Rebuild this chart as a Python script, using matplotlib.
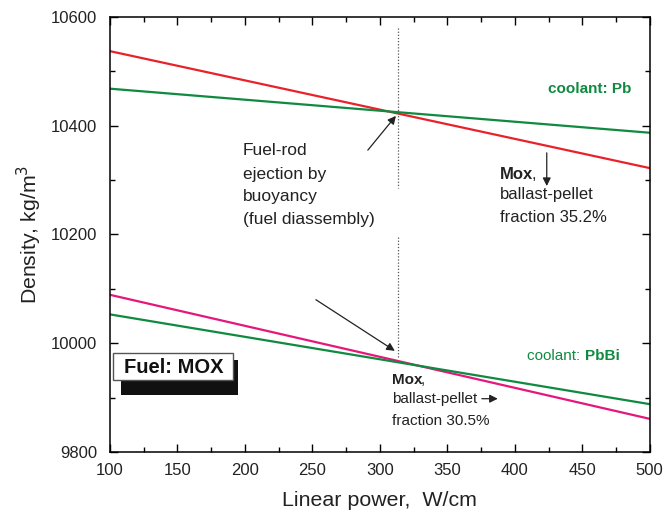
import numpy as np
import matplotlib
matplotlib.use("Agg")
import matplotlib.pyplot as plt
from matplotlib.ticker import MultipleLocator
from matplotlib.patches import Rectangle

plt.rcParams['font.family'] = ['Liberation Sans', 'DejaVu Sans']

# linear power, W/cm (line end points)
power = [100, 500]
# densities, kg/m3
mox_pb = [10537, 10322]      # Mox, ballast-pellet fraction 35.2%
coolant_pb = [10468, 10387]
mox_pbbi = [10089, 9861]     # Mox, ballast-pellet fraction 30.5%
coolant_pbbi = [10053, 9888]
x_eject = 313.3

red = '#e8222a'
green = '#0f8a40'
pink = '#e5177a'
ink = '#222222'

fig = plt.figure(figsize=(6.65, 5.18), dpi=100)
ax = fig.add_axes([0.1654, 0.1274, 0.8116, 0.84])

ax.plot(power, mox_pb, color=red, lw=1.6)
ax.plot(power, coolant_pb, color=green, lw=1.6)
ax.plot(power, mox_pbbi, color=pink, lw=1.6)
ax.plot(power, coolant_pbbi, color=green, lw=1.6)

# vertical dotted marker
ax.plot([x_eject, x_eject], [10580, 10285], color='#555555', lw=0.9, ls=(0, (1, 1.5)))
ax.plot([x_eject, x_eject], [10195, 9973], color='#555555', lw=0.9, ls=(0, (1, 1.5)))

ax.set_xlim(100, 500)
ax.set_ylim(9800, 10600)
ax.xaxis.set_major_locator(MultipleLocator(50))
ax.xaxis.set_minor_locator(MultipleLocator(25))
ax.yaxis.set_major_locator(MultipleLocator(200))
ax.yaxis.set_minor_locator(MultipleLocator(100))
ax.tick_params(which='both', direction='in', top=True, right=True, labelsize=12,
               width=1, labelcolor=ink)
ax.tick_params(axis='x', which='major', pad=8)
ax.tick_params(axis='y', which='major', pad=9)
ax.tick_params(which='major', length=6)
ax.tick_params(which='minor', length=3.5)
for s in ax.spines.values():
    s.set_linewidth(1.1)

ax.set_xlabel('Linear power,  W/cm', fontsize=15.4, labelpad=9, color=ink)
ax.set_ylabel('Density, kg/m$^3$', fontsize=15.3, labelpad=5, color=ink)

arrow = dict(arrowstyle='-|>', color=ink, lw=0.9, mutation_scale=12, shrinkA=0, shrinkB=0)

# fuel-rod ejection note
note = ['Fuel-rod', 'ejection by', 'buoyancy', '(fuel diassembly)']
for s, y in zip(note, [10355, 10310, 10269, 10228]):
    ax.text(198.5, y, s, fontsize=12.5, va='center', ha='left', color=ink)
ax.annotate('', xy=(311.9, 10418), xytext=(291.1, 10355), arrowprops=arrow)
ax.annotate('', xy=(311.1, 9986), xytext=(252.6, 10080), arrowprops=arrow)

# Pb coolant
ax.text(424.4, 10467, 'coolant: Pb', color=green, fontsize=11, fontweight='bold',
        va='center', ha='left')
ax.text(388.9, 10311, 'Mox', fontsize=12, fontweight='bold', va='center', color=ink)
ax.text(412.6, 10311, ',', fontsize=12, va='center', color=ink)
ax.text(388.9, 10273, 'ballast-pellet', fontsize=12, va='center', color=ink)
ax.text(388.9, 10232, 'fraction 35.2%', fontsize=12, va='center', color=ink)
ax.annotate('', xy=(423.7, 10289), xytext=(423.7, 10350), arrowprops=arrow)

# PbBi coolant
ax.text(408.9, 9977, 'coolant: ', color=green, fontsize=11, va='center', ha='left')
ax.text(451.9, 9977, 'PbBi', color=green, fontsize=11, fontweight='bold', va='center', ha='left')
ax.text(308.9, 9932, 'Mox', fontsize=11, fontweight='bold', va='center', color=ink)
ax.text(330.6, 9932, ',', fontsize=11, va='center', color=ink)
ax.text(308.9, 9897, 'ballast-pellet', fontsize=11, va='center', color=ink)
ax.text(308.9, 9857, 'fraction 30.5%', fontsize=11, va='center', color=ink)
ax.annotate('', xy=(387.4, 9898), xytext=(375.6, 9898), arrowprops=arrow)

# Fuel: MOX box with drop shadow
ax.add_patch(Rectangle((108.1, 9904.8), 86.7, 64.4, fc='#111111', ec='#111111', lw=0, zorder=4))
ax.add_patch(Rectangle((102.2, 9932.4), 88.9, 49.6, fc='white', ec='#555555', lw=1.0, zorder=5))
ax.text(147.4, 9956, 'Fuel: MOX', fontsize=14.5, fontweight='bold', va='center', ha='center',
        color='#111111', zorder=6)

fig.savefig('out.png', dpi=100)
